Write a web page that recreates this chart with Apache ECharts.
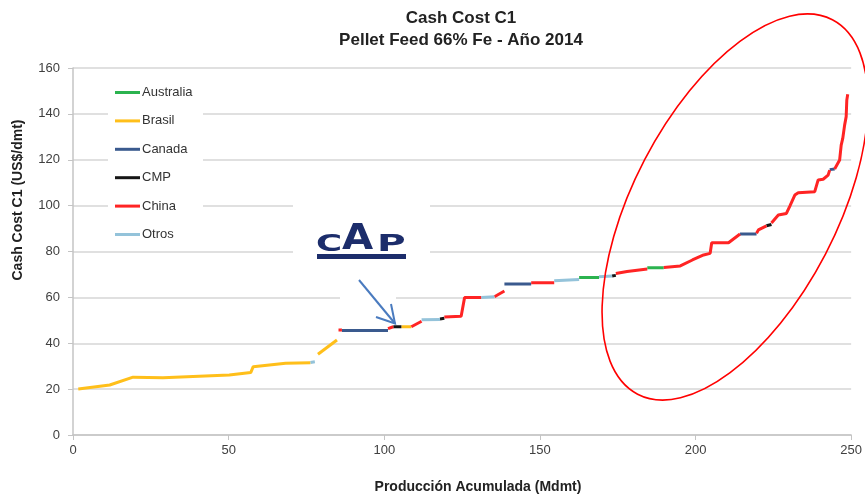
<!DOCTYPE html>
<html>
<head>
<meta charset="utf-8">
<script src="https://cdn.jsdelivr.net/npm/echarts@6/dist/echarts.min.js"></script>
<style>html,body{margin:0;padding:0;background:#fff}#c{width:865px;height:495px}</style>
</head>
<body>
<div id="c"></div>
<script>
// ---- Data (x = cumulative production Mdmt, y = cash cost US$/dmt) ----
const countries = ['Australia', 'Brasil', 'Canada', 'CMP', 'China', 'Otros'];
const xTicks = [0, 50, 100, 150, 200, 250];
const yTicks = [0, 20, 40, 60, 80, 100, 120, 140, 160];

const australia = [
  [[162.6, 68.7], [169.0, 68.7]],
  [[184.5, 72.9], [189.8, 72.9]]
];
const brasil = [
  [[1.7, 20.1], [11.8, 21.8], [19.3, 25.2], [28.9, 25.0], [50.2, 26.2], [57.1, 27.2], [57.9, 29.8], [68.3, 31.3], [76.3, 31.5]],
  [[78.7, 35.2], [84.8, 41.4]],
  [[105.5, 47.2], [108.7, 47.2]]
];
const canada = [
  [[86.4, 45.6], [101.2, 45.6]],
  [[138.6, 65.8], [147.2, 65.8]],
  [[214.3, 87.6], [219.6, 87.6]],
  [[243.1, 115.7], [244.7, 116.0]]
];
const cmp = [
  [[102.9, 47.2], [105.5, 47.2]],
  [[117.9, 50.6], [119.3, 50.9]],
  [[173.2, 69.3], [174.4, 69.6]],
  [[222.8, 91.2], [224.4, 91.8]]
];
const china = [
  [[85.3, 45.8], [86.4, 45.8]],
  [[101.2, 46.4], [102.9, 47.2]],
  [[108.7, 47.2], [112.0, 49.6]],
  [[119.3, 51.4], [124.7, 51.8], [125.8, 59.9], [131.2, 59.9]],
  [[135.4, 60.3], [138.6, 62.8]],
  [[147.2, 66.4], [154.6, 66.4]],
  [[174.4, 70.4], [178.0, 71.3], [184.5, 72.4]],
  [[189.8, 73.0], [195.1, 73.7], [199.0, 76.3], [202.6, 78.5], [204.7, 79.2], [205.2, 83.8], [210.6, 83.8], [214.3, 87.6]],
  [[219.6, 88.0], [220.2, 89.4], [222.8, 91.2]],
  [[224.4, 92.4], [226.6, 95.9], [229.2, 96.6], [230.3, 99.8], [231.9, 104.6], [233.0, 105.6], [238.3, 106.1], [239.4, 111.2], [241.0, 111.5], [242.6, 113.3], [243.1, 115.5]],
  [[244.7, 116.0], [245.2, 116.3], [246.3, 119.9], [246.8, 126.4], [247.3, 129.3], [247.9, 135.1], [248.4, 138.8], [248.6, 146.0], [248.9, 148.6]]
];
const otros = [
  [[76.3, 31.6], [77.7, 31.9]],
  [[112.0, 50.2], [117.9, 50.4]],
  [[131.2, 59.9], [135.4, 60.3]],
  [[154.6, 67.2], [162.6, 67.8]],
  [[169.0, 69.0], [173.2, 69.3]]
];

const colors = {
  Australia: '#2bb34f',
  Brasil: '#ffbf1a',
  Canada: '#3a5a8e',
  CMP: '#151515',
  China: '#ff2424',
  Otros: '#94c3da'
};
const segmentsBy = { Australia: australia, Brasil: brasil, Canada: canada, CMP: cmp, China: china, Otros: otros };

const series = [];
countries.forEach(function (c) {
  segmentsBy[c].forEach(function (seg) {
    series.push({
      type: 'line', name: c, data: seg, symbol: 'none', showSymbol: false,
      lineStyle: { width: 3, color: colors[c] }, itemStyle: { color: colors[c] },
      z: 3, silent: true
    });
  });
});

const FONT = '"Liberation Sans", Arial, sans-serif';
const LOGO = 'bold 23px "DejaVu Sans", sans-serif';
const chart = echarts.init(document.getElementById('c'), null, { renderer: 'canvas' });
chart.setOption({
  animation: false,
  backgroundColor: '#fff',
  grid: { left: 73, right: 10, top: 68, bottom: 60, containLabel: false },
  xAxis: {
    type: 'value', min: xTicks[0], max: xTicks[xTicks.length - 1], interval: 50,
    axisLine: { show: true, lineStyle: { color: '#c4c4c4', width: 1.5 } },
    axisTick: { show: true, length: 5, lineStyle: { color: '#c4c4c4' } },
    splitLine: { show: false },
    axisLabel: { color: '#404040', fontSize: 13, fontFamily: FONT, margin: 9 }
  },
  yAxis: {
    type: 'value', min: yTicks[0], max: yTicks[yTicks.length - 1], interval: 20,
    axisLine: { show: true, lineStyle: { color: '#c4c4c4', width: 1.5 } },
    axisTick: { show: true, length: 5, lineStyle: { color: '#c4c4c4' } },
    splitLine: { show: true, lineStyle: { color: '#d6d6d6', width: 1.5 } },
    axisLabel: { color: '#404040', fontSize: 13, fontFamily: FONT, margin: 13 }
  },
  legend: {
    orient: 'vertical', left: 115, top: 85, padding: 0,
    data: countries, icon: 'rect', itemWidth: 25, itemHeight: 3, itemGap: 13.4,
    textStyle: { color: '#333', fontSize: 13, fontFamily: FONT, lineHeight: 15, padding: [0, 0, 0, -3] },
    selectedMode: false
  },
  series: series,
  graphic: [
    // white patches that interrupt gridlines (behind legend / logo / arrow)
    { type: 'rect', z: 1, silent: true, shape: { x: 108, y: 75, width: 95, height: 165 }, style: { fill: '#fff' } },
    { type: 'rect', z: 1, silent: true, shape: { x: 293, y: 195, width: 137, height: 70 }, style: { fill: '#fff' } },
    { type: 'rect', z: 1, silent: true, shape: { x: 340, y: 265, width: 56, height: 42 }, style: { fill: '#fff' } },
    // titles
    { type: 'text', z: 10, x: 461, y: 18, style: { text: 'Cash Cost C1', font: 'bold 17px ' + FONT, fill: '#222', textAlign: 'center', textVerticalAlign: 'middle' } },
    { type: 'text', z: 10, x: 461, y: 40, style: { text: 'Pellet Feed 66% Fe - Año 2014', font: 'bold 17px ' + FONT, fill: '#222', textAlign: 'center', textVerticalAlign: 'middle' } },
    { type: 'text', z: 10, x: 478, y: 487, style: { text: 'Producción Acumulada (Mdmt)', font: 'bold 14px ' + FONT, fill: '#222', textAlign: 'center', textVerticalAlign: 'middle' } },
    { type: 'text', z: 10, x: 18, y: 200, rotation: Math.PI / 2, style: { text: 'Cash Cost C1 (US$/dmt)', font: 'bold 14px ' + FONT, fill: '#222', textAlign: 'center', textVerticalAlign: 'middle' } },
    // CAP logo
    { type: 'text', z: 10, x: 316, y: 257, scaleX: 1.55, style: { text: 'C', font: LOGO, fill: '#1c2d6b', textAlign: 'left', textVerticalAlign: 'bottom' } },
    { type: 'text', z: 10, x: 342, y: 257, scaleX: 1.15, style: { text: 'A', font: 'bold 35px "DejaVu Sans", sans-serif', fill: '#1c2d6b', textAlign: 'left', textVerticalAlign: 'bottom' } },
    { type: 'text', z: 10, x: 377, y: 257, scaleX: 1.7, style: { text: 'P', font: LOGO, fill: '#1c2d6b', textAlign: 'left', textVerticalAlign: 'bottom' } },
    { type: 'rect', z: 10, shape: { x: 317, y: 254, width: 89, height: 5 }, style: { fill: '#1c2d6b' } },
    // arrow
    { type: 'polyline', z: 10, shape: { points: [[359, 280], [395, 323.5]] }, style: { stroke: '#4a7bbf', lineWidth: 2, fill: null } },
    { type: 'polyline', z: 10, shape: { points: [[376, 317], [395, 323.5], [391, 304]] }, style: { stroke: '#4a7bbf', lineWidth: 2, fill: null } },
    // red ellipse
    { type: 'ellipse', z: 20, x: 735, y: 207, rotation: 1.091, shape: { cx: 0, cy: 0, rx: 211, ry: 102 }, style: { stroke: '#ff0000', lineWidth: 1.6, fill: null } }
  ]
});
</script>
</body>
</html>
